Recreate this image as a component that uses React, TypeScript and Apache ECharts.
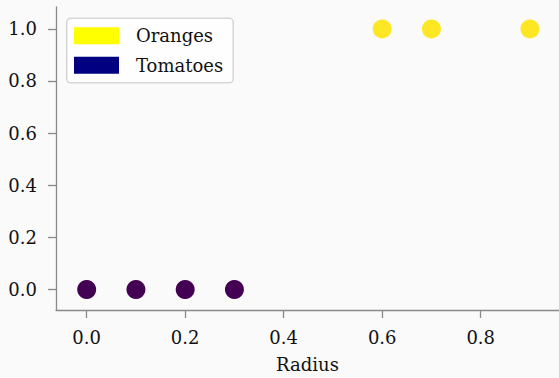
import React, { useEffect, useRef } from "react";
import * as echarts from "echarts";

const orangesX = [0.6, 0.7, 0.9];
const orangesY = [1, 1, 1];
const tomatoesX = [0.0, 0.1, 0.2, 0.3];
const tomatoesY = [0, 0, 0, 0];
const seriesNames = ["Oranges", "Tomatoes"];
const legendColors = ["#ffff00", "#000080"];
const markerColors = ["#fde725", "#440154"];
const xTicks = [0.0, 0.2, 0.4, 0.6, 0.8];
const yTicks = [0.0, 0.2, 0.4, 0.6, 0.8, 1.0];

const FONT = "DejaVu Serif";

export default function App() {
  const ref = useRef<HTMLDivElement>(null);
  useEffect(() => {
    if (!ref.current) return;
    const chart = echarts.init(ref.current, null, { renderer: "svg" });
    const axisColor = "#8a8a8a";
    chart.setOption({
      animation: false,
      backgroundColor: "#fafafa",
      textStyle: { fontFamily: FONT },
      grid: { left: 56, right: 0, top: 7, bottom: 62, containLabel: false },
      xAxis: {
        type: "value",
        min: -0.0623,
        max: 0.959,
        interval: 0.2,
        splitLine: { show: false },
        axisLine: { show: true, onZero: false, lineStyle: { color: axisColor, width: 1.3 } },
        axisTick: { show: true, length: 8, lineStyle: { color: axisColor, width: 1.3 }, customValues: xTicks },
        axisLabel: {
          customValues: xTicks,
          formatter: (v: number) => v.toFixed(1),
          color: "#111",
          fontFamily: FONT,
          fontSize: 18,
          margin: 18,
        },
        name: "Radius",
        nameLocation: "middle",
        nameGap: 45,
        nameTextStyle: { color: "#111", fontFamily: FONT, fontSize: 18 },
      },
      yAxis: {
        type: "value",
        min: -0.079,
        max: 1.084,
        splitLine: { show: false },
        axisLine: { show: true, onZero: false, lineStyle: { color: axisColor, width: 1.3 } },
        axisTick: { show: true, length: 8, lineStyle: { color: axisColor, width: 1.3 }, customValues: yTicks },
        axisLabel: {
          customValues: yTicks,
          formatter: (v: number) => v.toFixed(1),
          color: "#111",
          fontFamily: FONT,
          fontSize: 18,
          margin: 19,
        },
      },
      legend: {
        orient: "vertical",
        left: 66.7,
        top: 18.3,
        padding: [8.5, 10, 8.5, 7.3],
        itemWidth: 45,
        itemHeight: 17,
        itemGap: 11.5,
        icon: "rect",
        backgroundColor: "rgba(255,255,255,0.8)",
        borderColor: "#d6d6d6",
        borderWidth: 1.5,
        borderRadius: 4,
        textStyle: { fontFamily: FONT, fontSize: 18, color: "#111", padding: [0, 0, 0, 12] },
        data: seriesNames.map((n, i) => ({ name: n, itemStyle: { color: legendColors[i] } })),
      },
      series: [
        {
          name: seriesNames[0],
          type: "scatter",
          symbolSize: 19,
          itemStyle: { color: markerColors[0], opacity: 1 },
          data: orangesX.map((x, i) => [x, orangesY[i]]),
        },
        {
          name: seriesNames[1],
          type: "scatter",
          symbolSize: 19,
          itemStyle: { color: markerColors[1], opacity: 1 },
          data: tomatoesX.map((x, i) => [x, tomatoesY[i]]),
        },
      ],
    });
    return () => chart.dispose();
  }, []);
  return (
    <div
      ref={ref}
      style={{ position: "fixed", left: 0, top: 0, width: 559, height: 378 }}
    />
  );
}
